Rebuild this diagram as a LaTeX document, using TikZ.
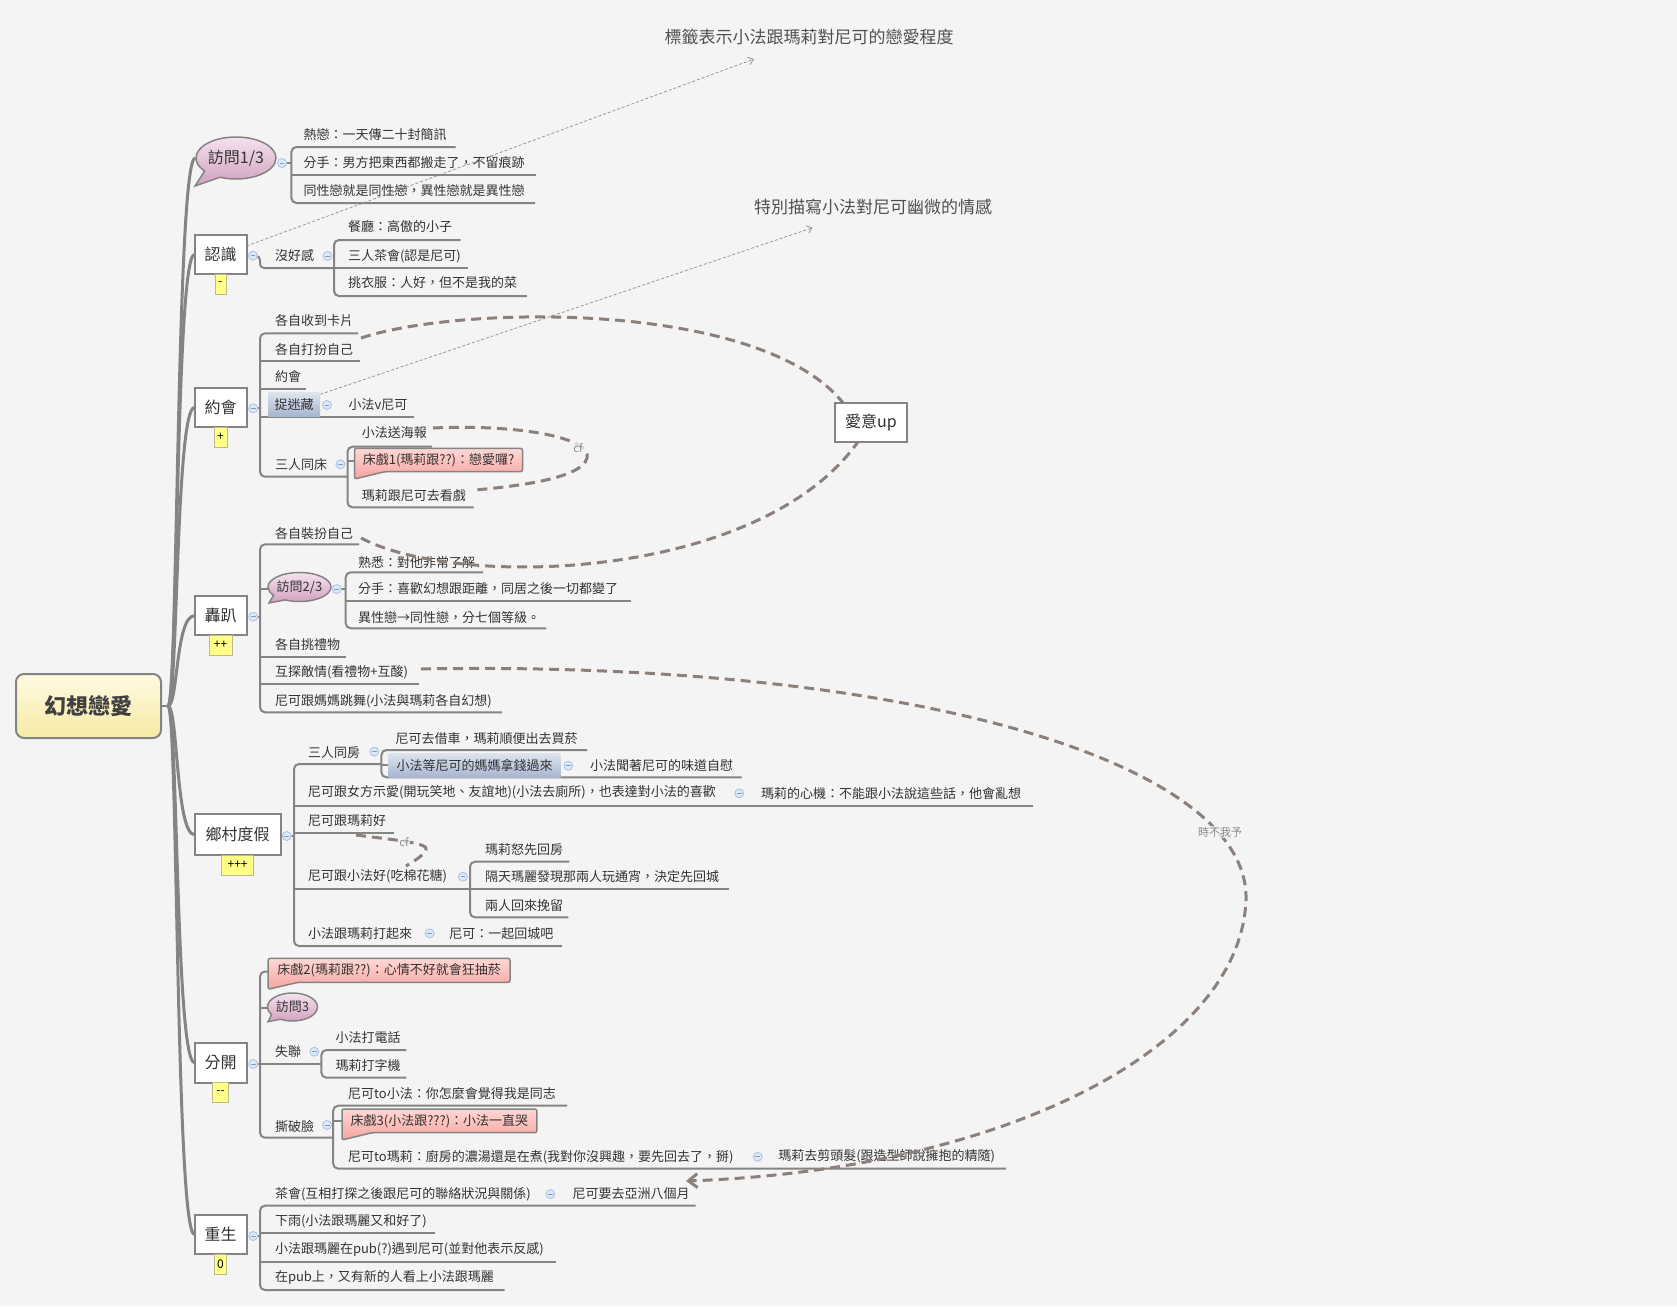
\documentclass[tikz,border=0pt]{standalone}
\usepackage{fontspec}
\setmainfont{Noto Sans CJK TC}
\usetikzlibrary{shapes.callouts,arrows.meta}
\pgfdeclarelayer{bgl}
\pgfsetlayers{bgl,main}
\definecolor{bgc}{HTML}{F4F4F4}
\definecolor{ln}{HTML}{848484}
\definecolor{tx}{HTML}{333333}
\definecolor{relc}{HTML}{8C807A}
\definecolor{notec}{HTML}{A09390}
\definecolor{rootA}{HTML}{FFFAE2}
\definecolor{rootB}{HTML}{F6EAA4}
\definecolor{bubA}{HTML}{F4E2EE}
\definecolor{bubB}{HTML}{D19FC0}
\definecolor{pinkA}{HTML}{FFD8D4}
\definecolor{pinkB}{HTML}{F6A3A0}
\definecolor{hiA}{HTML}{DDE4EF}
\definecolor{hiB}{HTML}{A6B5CE}
\definecolor{colF}{HTML}{DCE8F8}
\definecolor{colD}{HTML}{A9C1E6}
\definecolor{labY}{HTML}{FFFF88}
\definecolor{labD}{HTML}{BDB98C}
\definecolor{flc}{HTML}{505050}
\definecolor{cfc}{HTML}{8A8A8A}
\newcommand{\myfs}[1]{\fontsize{#1}{#1}\selectfont}
\newcommand{\pcallout}[7]{%
 \path[callbox] (#2,#3) -- (#4,#3) -- (#4,#5) -- ({#2+30},#5) -- (#2,#6) -- cycle;
 \node[txt, anchor=center] (#1) at ({(#2+#4)/2},{(#3+#5)/2}) {#7};}
\begin{document}
\begin{tikzpicture}[x=1pt,y=-1pt,
 txt/.style={font=\myfs{13}, text=tx, inner sep=0, outer sep=0, anchor=west},
 topic/.style={draw=ln, line width=2, fill=white, font=\myfs{16}, text=tx, inner sep=0, outer sep=0, minimum height=39, minimum width=52},
 ul/.style={draw=ln, line width=2, rounded corners=5},
 trunk/.style={draw=ln, line width=3},
 coll/.style={circle, draw=colD, fill=colF, line width=0.8, minimum size=9, inner sep=0, outer sep=0,
   path picture={\draw[colD!80!black, line width=0.8] ([xshift=-2.4]path picture bounding box.center) -- ([xshift=2.4]path picture bounding box.center);}},
 lab/.style={draw=labD, fill=labY, line width=0.6, font=\myfs{12}, text=black, inner sep=0, outer sep=0, minimum height=20, anchor=north},
 bub/.style={ellipse callout, draw=ln, line width=1.5, top color=bubA, bottom color=bubB, text=tx, inner sep=0, callout pointer arc=28},
 hibox/.style={top color=hiA, bottom color=hiB, inner sep=0, font=\myfs{13}, text=tx, minimum height=24},
 callbox/.style={draw=ln, line width=1.5, top color=pinkA, bottom color=pinkB, rounded corners=2},
 relst/.style={draw=relc, line width=3, dash pattern=on 10pt off 6pt},
 note/.style={draw=notec, line width=0.8, dash pattern=on 3pt off 2pt, -{Straight Barb[length=5pt,width=8pt]}},
 flt/.style={font=\myfs{17}, text=flc, inner sep=0},
 cfl/.style={font=\myfs{11}, text=cfc, inner sep=1, fill=bgc, fill opacity=0.75, text opacity=1}
]
% ---------- root and main topics ----------
\node[draw=ln, line width=2, rounded corners=8, top color=rootA, bottom color=rootB, minimum width=145, minimum height=64, font=\myfs{22}\bfseries, text=black!75] (root) at (88.5,706) {幻想戀愛};
\node[bub, minimum width=80, minimum height=42, font=\myfs{16}, callout absolute pointer={(195,186)}] (v1) at (236,158) {\makebox[0pt]{訪問1/3}};
\node[topic] (know) at (220.5,254.5) {認識};
\node[topic] (date) at (220.5,407.5) {約會};
\node[topic] (party) at (220.5,615.7) {轟趴};
\node[topic, minimum width=86, minimum height=41] (vac) at (237.6,834.7) {鄉村度假};
\node[topic, minimum height=40] (split) at (220.5,1062.5) {分開};
\node[topic] (reb) at (220.5,1234.5) {重生};
\node[topic, minimum width=72] (love) at (871,422.3) {愛意up};

% labels
\node[lab, minimum width=11.4] (lk) at (know.south) {-};
\node[lab, minimum width=13.4] (ld) at (date.south) {+};
\node[lab, minimum width=23.2] (lp) at (party.south) {++};
\node[lab, minimum width=32.2] (lv) at (vac.south) {+++};
\node[lab, minimum width=16] (ls) at (split.south) {-{}-};
\node[lab, minimum width=12.5] (lr) at (reb.south) {0};

% floating notes
\node[flt] (f1) at (809,37) {標籤表示小法跟瑪莉對尼可的戀愛程度};
\node[flt] (f2) at (873,207) {特別描寫小法對尼可幽微的情感};
\coordinate (n1e) at (754,59);
\coordinate (n2e) at (812.7,227.7);

% ---------- 訪問1/3 ----------
\node[txt] (a1) at (303.6,135) {熱戀：一天傳二十封簡訊};
\node[txt] (a2) at (303.6,163) {分手：男方把東西都搬走了，不留痕跡};
\node[txt] (a3) at (303.6,191) {同性戀就是同性戀，異性戀就是異性戀};
\node[coll] (c1) at (282,163) {};

% ---------- 認識 ----------
\node[coll] (c2) at (252.9,255.7) {};
\node[txt] (b0) at (275,256) {沒好感};
\node[coll] (c2b) at (327.5,256) {};
\node[txt] (b1) at (348,227) {餐廳：高傲的小子};
\node[txt] (b2) at (348,256) {三人茶會(認是尼可)};
\node[txt] (b3) at (348,283) {挑衣服：人好，但不是我的菜};

% ---------- 約會 ----------
\node[coll] (c3) at (253.2,408.3) {};
\node[txt] (d1) at (275,320.7) {各自收到卡片};
\node[txt] (d2) at (275,349.3) {各自打扮自己};
\node[txt] (d3) at (275,377) {約會};
\node[hibox, minimum width=52] (d4) at (294,404.5) {捉迷藏};
\node[coll] (c3b) at (327,405) {};
\node[txt] (d4a) at (348.6,405) {小法v尼可};
\node[txt] (d5) at (275,465) {三人同床};
\node[coll] (c3c) at (340.4,464.3) {};
\node[txt] (d5a) at (361.8,432.7) {小法送海報};
\pcallout{d5b}{354.6}{448.3}{522.5}{471.7}{479}{床戲1(瑪莉跟??)：戀愛囉?}
\node[txt] (d5c) at (361.8,496) {瑪莉跟尼可去看戲};

% ---------- 轟趴 ----------
\node[coll] (c4) at (253.2,616.7) {};
\node[txt] (e1) at (275,533.3) {各自裝扮自己};
\node[bub, minimum width=63, minimum height=29, font=\myfs{13}, callout absolute pointer={(269,603)}] (v2) at (299.5,587) {\makebox[0pt]{訪問2/3}};
\node[coll] (c5) at (336.8,589) {};
\node[txt] (e2a) at (358.2,562.3) {熟悉：對他非常了解};
\node[txt] (e2b) at (358.2,589) {分手：喜歡幻想跟距離，同居之後一切都變了};
\node[txt] (e2c) at (358.2,617.3) {異性戀→同性戀，分七個等級。};
\node[txt] (e3) at (275,645) {各自挑禮物};
\node[txt] (e4) at (275,672.7) {互探敵情(看禮物+互酸)};
\node[txt] (e5) at (275,701) {尼可跟媽媽跳舞(小法與瑪莉各自幻想)};

% ---------- 鄉村度假 ----------
\node[coll] (c6) at (286.8,836) {};
\node[txt] (g1) at (308.2,752.3) {三人同房};
\node[coll] (c6a) at (374.3,751.7) {};
\node[txt] (g1a) at (395.7,738.3) {尼可去借車，瑪莉順便出去買菸};
\node[hibox, minimum width=172] (g1b) at (474.7,765.3) {小法等尼可的媽媽拿錢過來};
\node[coll] (c6b) at (568.3,765.7) {};
\node[txt] (g1c) at (590,765.7) {小法聞著尼可的味道自慰};
\node[txt] (g2) at (308.2,792.3) {尼可跟女方示愛(開玩笑地、友誼地)(小法去廁所)，也表達對小法的喜歡};
\node[coll] (c6c) at (739.3,793.3) {};
\node[txt] (g2a) at (761,793) {瑪莉的心機：不能跟小法說這些話，他會亂想};
\node[txt] (g3) at (308.2,821) {尼可跟瑪莉好};
\node[txt] (g4) at (308.2,876.7) {尼可跟小法好(吃棉花糖)};
\node[coll] (c6d) at (462.9,876.7) {};
\node[txt] (g4a) at (485,850) {瑪莉怒先回房};
\node[txt] (g4b) at (485,876.7) {隔天瑪麗發現那兩人玩通宵，決定先回城};
\node[txt] (g4c) at (485,905.7) {兩人回來挽留};
\node[txt] (g5) at (308.2,933.3) {小法跟瑪莉打起來};
\node[coll] (c6e) at (429.6,933.3) {};
\node[txt] (g5a) at (449.3,933.3) {尼可：一起回城吧};

% ---------- 分開 ----------
\node[coll] (c7) at (253.2,1064) {};
\pcallout{h1}{268.2}{958.3}{510}{982.3}{989.3}{床戲2(瑪莉跟??)：心情不好就會狂抽菸}
\node[bub, minimum width=50, minimum height=28, font=\myfs{13}, callout absolute pointer={(268,1021.7)}] (v3) at (292.5,1007) {\makebox[0pt]{訪問3}};
\node[txt] (h3) at (275,1051.7) {失聯};
\node[coll] (c7a) at (314.3,1051.7) {};
\node[txt] (h3a) at (335.7,1037.7) {小法打電話};
\node[txt] (h3b) at (335.7,1066) {瑪莉打字機};
\node[txt] (h4) at (275,1126) {撕破臉};
\node[coll] (c7b) at (327.1,1125) {};
\node[txt] (h4a) at (348.2,1094) {尼可to小法：你怎麼會覺得我是同志};
\pcallout{h4b}{342}{1109}{536.8}{1132.7}{1140}{床戲3(小法跟???)：小法一直哭}
\node[txt] (h4c) at (348.2,1156.7) {尼可to瑪莉：廚房的濃湯還是在煮(我對你沒興趣，要先回去了，掰)};
\node[coll] (c7c) at (757.7,1156.7) {};
\node[txt] (h4d) at (778.3,1156.7) {瑪莉去剪頭髮(跟造型師說擁抱的精隨)};

% ---------- 重生 ----------
\node[coll] (c8) at (253.2,1236) {};
\node[txt] (k1) at (275,1194) {茶會(互相打探之後跟尼可的聯絡狀況與關係)};
\node[coll] (c8a) at (550.4,1194) {};
\node[txt] (k1a) at (572.5,1194) {尼可要去亞洲八個月};
\node[txt] (k2) at (275,1221.7) {下雨(小法跟瑪麗又和好了)};
\node[txt] (k3) at (275,1249.3) {小法跟瑪麗在pub(?)遇到尼可(並對他表示反感)};
\node[txt] (k4) at (275,1277.7) {在pub上，又有新的人看上小法跟瑪麗};

% ---------- background layer: connectors ----------
\begin{pgfonlayer}{bgl}
\fill[bgc] (0,0) rectangle (1677,1306);
\draw[note] ([yshift=-11]know.north east) -- (n1e);
\draw[note] ([yshift=-2]d4.north east) -- (n2e);
\draw[ln, line width=2] (root.east) -- (168,706) coordinate (hub);
\foreach \t in {v1,know,date,party,vac,split,reb}
  \draw[trunk] (hub) .. controls +(10,0) and +(-19,0) .. (\t.west);
% 訪問1/3
\draw[ul] (c1) -- (291.4,163);
\draw[ul] (455.7,147) -- (291.4,147) -- (291.4,203) -- (535,203);
\draw[ul] (291.4,175) -- (535.7,175);
% 認識
\draw[ul, rounded corners=4] (c2) -- (260,256) -- (260,268) -- (334,268);
\draw[ul] (460.7,240) -- (334,240) -- (334,296) -- (526.8,296);
\draw[ul] (334,268) -- (468,268);
% 約會
\draw[ul] (c3) -- (260,408.3);
\draw[ul] (358,333.3) -- (260,333.3) -- (260,476.7) -- (347.5,476.7);
\draw[ul] (260,361) -- (360,361);
\draw[ul] (260,389.3) -- (306.4,389.3);
\draw[ul] (260,416.7) -- (413.6,416.7);
\draw[ul] (432,446.7) -- (347.5,446.7) -- (347.5,507.3) -- (473.6,507.3);
\draw[ul] (347.5,461) -- (354.6,461);
% 轟趴
\draw[ul] (c4) -- (260,616.7);
\draw[ul] (359,544.3) -- (260,544.3) -- (260,712.3) -- (501.8,712.3);
\draw[ul] (260,656.7) -- (345.7,656.7);
\draw[ul] (260,684) -- (419,684);
\draw[ul] (260,589) -- (270,589);
\draw[ul] (c5) -- (345.7,589);
\draw[ul] (483.2,572.3) -- (345.7,572.3) -- (345.7,628.3) -- (546.4,628.3);
\draw[ul] (345.7,600.7) -- (630.7,600.7);
% 鄉村度假
\draw[ul] (c6) -- (294,836);
\draw[ul] (381.4,764) -- (294,764) -- (294,946) -- (561.8,946);
\draw[ul] (587.3,750) -- (381.4,750) -- (381.4,777.3) -- (741.7,777.3);
\draw[ul] (381.4,765) -- (388.6,765);
\draw[ul] (294,805.7) -- (1032.7,805.7);
\draw[ul] (294,833.3) -- (394,833.3);
\draw[ul] (294,889.3) -- (470,889.3);
\draw[ul] (569.3,861.7) -- (470,861.7) -- (470,917.3) -- (568.3,917.3);
\draw[ul] (470,889.3) -- (729.3,889.3);
% 分開
\draw[ul] (c7) -- (321.4,1064);
\draw[ul] (268.2,971.5) -- (260,971.5) -- (260,1137.7) -- (333.2,1137.7);
\draw[ul] (260,1008) -- (268,1008);
\draw[ul] (406.4,1050) -- (321.4,1050) -- (321.4,1077.7) -- (406.4,1077.7);
\draw[ul] (567,1105.7) -- (333.2,1105.7) -- (333.2,1168.7) -- (1006,1168.7);
\draw[ul] (333.2,1121) -- (342,1121);
% 重生
\draw[ul] (c8) -- (260,1236);
\draw[ul] (695.7,1205.7) -- (260,1205.7) -- (260,1290) -- (504.6,1290);
\draw[ul] (260,1233.3) -- (435,1233.3);
\draw[ul] (260,1261.7) -- (555.7,1261.7);
\end{pgfonlayer}

% ---------- relationships ----------
\coordinate (r1s) at (361,338);
\coordinate (r2s) at (361,538);
\draw[relst] (r1s) .. controls (460,305) and (760,300) .. ([xshift=8]love.north west);
\draw[relst] (r2s) .. controls (460,590) and (760,580) .. ([xshift=23]love.south west);
\coordinate (cf1s) at (433,428);
\coordinate (cf1e) at (475,490);
\draw[relst] (cf1s) .. controls (520,424) and (592,438) .. (587,458) .. controls (582,478) and (520,486) .. (cf1e);
\node[cfl] (cf1) at (578,448) {cf};
\coordinate (cf2s) at (356,835);
\coordinate (cf2e) at (406,866);
\draw[relst] (cf2s) .. controls (395,840) and (430,843) .. (426,850) .. controls (423,856) and (414,861) .. (cf2e);
\node[cfl] (cf2) at (404,842) {cf};
\coordinate (r3s) at (421,669);
\coordinate (r3e) at (686,1181);
\draw[relst, -{Straight Barb[length=9pt,width=14pt]}] (r3s) .. controls (900,660) and (1250,760) .. (1246,900) .. controls (1240,1050) and (1000,1170) .. (r3e);
\node[cfl] (r3l) at (1220,832) {時不我予};
\end{tikzpicture}
\end{document}
